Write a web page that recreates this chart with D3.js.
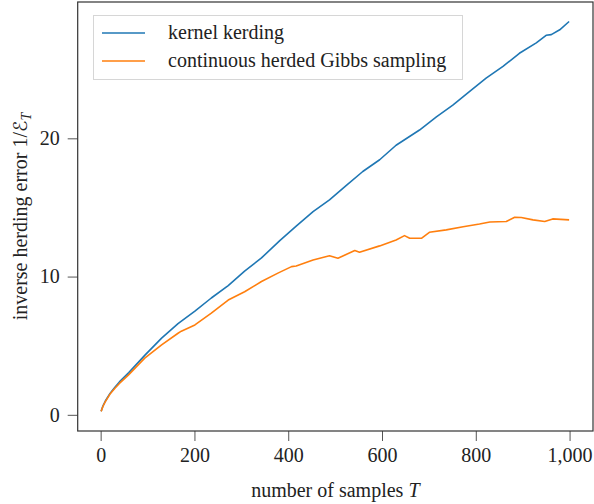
<!DOCTYPE html>
<html>
<head>
<meta charset="utf-8">
<script src="https://cdn.jsdelivr.net/npm/d3@7"></script>
<style>
  body { margin: 0; background: #fff; }
  svg text { font-family: "Liberation Serif", "DejaVu Serif", serif; fill: #222; }
</style>
</head>
<body>
<div id="chart"></div>
<script>
// samples T and inverse herding error
const kernelT = [1, 5, 10, 20, 30, 40, 60, 94, 130, 165, 201, 236, 272, 307, 343, 382, 417, 453, 488, 524, 559, 595, 630, 680, 716, 751, 787, 822, 858, 893, 929, 950, 961, 979, 999];
const kernelVals = [0.25, 0.65, 1.0, 1.55, 1.98, 2.38, 3.05, 4.3, 5.55, 6.6, 7.5, 8.45, 9.35, 10.4, 11.35, 12.6, 13.65, 14.7, 15.55, 16.6, 17.6, 18.45, 19.5, 20.6, 21.55, 22.4, 23.4, 24.35, 25.2, 26.15, 26.9, 27.45, 27.5, 27.85, 28.45];

const gibbsT = [1, 5, 10, 20, 30, 40, 59, 94, 130, 165, 172, 201, 236, 272, 307, 343, 378, 407, 417, 453, 488, 506, 542, 552, 595, 630, 648, 659, 684, 701, 737, 773, 808, 830, 865, 883, 897, 922, 947, 964, 999];
const gibbsVals = [0.25, 0.62, 0.95, 1.5, 1.9, 2.27, 2.87, 4.1, 5.06, 5.9, 6.05, 6.5, 7.35, 8.3, 8.9, 9.64, 10.25, 10.72, 10.77, 11.2, 11.5, 11.33, 11.88, 11.76, 12.22, 12.65, 12.96, 12.77, 12.77, 13.2, 13.38, 13.6, 13.8, 13.95, 13.98, 14.29, 14.27, 14.1, 13.98, 14.17, 14.1];

const xTicks = [0, 200, 400, 600, 800, 1000];
const yTicks = [0, 10, 20];
const seriesNames = ["kernel kerding", "continuous herded Gibbs sampling"];
const seriesColors = ["#1f77b4", "#ff7f0e"];

const W = 594, H = 504;
const plot = { left: 77.7, right: 593, top: 2, bottom: 431 };

const svg = d3.select("#chart").append("svg")
  .attr("width", W)
  .attr("height", H);

const x = d3.scaleLinear().domain([-48.95, 1049.95]).range([plot.left, plot.right]);
const y = d3.scaleLinear().domain([-1.17, 29.86]).range([plot.bottom, plot.top]);

// axes
const fmt = d3.format(",");
const xAxis = svg.append("g")
  .attr("transform", `translate(0,${plot.bottom})`)
  .call(d3.axisBottom(x).tickValues(xTicks).tickFormat(fmt).tickSize(10).tickPadding(4));
const yAxis = svg.append("g")
  .attr("transform", `translate(${plot.left},0)`)
  .call(d3.axisLeft(y).tickValues(yTicks).tickSize(10).tickPadding(8));

[xAxis, yAxis].forEach(a => {
  a.select(".domain").remove();
  a.selectAll(".tick line").attr("stroke", "#555").attr("stroke-width", 1);
  a.selectAll(".tick text").attr("font-size", 20).attr("fill", "#222")
    .style("font-family", '"Liberation Serif", "DejaVu Serif", serif');
});
xAxis.selectAll(".tick text").attr("dy", "0.85em");

// lines
const line = d3.line()
  .x(d => x(d[0]))
  .y(d => y(d[1]));

const series = [
  d3.zip(kernelT, kernelVals),
  d3.zip(gibbsT, gibbsVals)
];

svg.append("g").selectAll("path")
  .data(series)
  .enter().append("path")
  .attr("d", line)
  .attr("fill", "none")
  .attr("stroke", (d, i) => seriesColors[i])
  .attr("stroke-width", 1.6)
  .attr("stroke-linejoin", "round");

// frame
svg.append("rect")
  .attr("x", plot.left)
  .attr("y", plot.top)
  .attr("width", plot.right - plot.left)
  .attr("height", plot.bottom - plot.top)
  .attr("fill", "none")
  .attr("stroke", "#333")
  .attr("stroke-width", 1.2);

// legend
const legend = svg.append("g");
legend.append("rect")
  .attr("x", 93.5).attr("y", 15.5)
  .attr("width", 369).attr("height", 64)
  .attr("fill", "#fff")
  .attr("stroke", "#d6d6d6")
  .attr("stroke-width", 1);

const items = legend.selectAll(".item")
  .data(seriesNames)
  .enter().append("g")
  .attr("class", "item")
  .attr("transform", (d, i) => `translate(0,${33 + i * 28})`);

items.append("line")
  .attr("x1", 102).attr("x2", 145)
  .attr("stroke", (d, i) => seriesColors[i])
  .attr("stroke-width", 1.6);

items.append("text")
  .attr("x", 168)
  .attr("y", 6)
  .attr("font-size", 20)
  .text(d => d);

// axis labels
svg.append("text")
  .attr("x", (plot.left + plot.right) / 2)
  .attr("y", 497)
  .attr("text-anchor", "middle")
  .attr("font-size", 20)
  .text("number of samples ")
  .append("tspan").attr("font-style", "italic").text("T");

const yl = svg.append("text")
  .attr("transform", `translate(27,${(plot.top + plot.bottom) / 2}) rotate(-90)`)
  .attr("text-anchor", "middle")
  .attr("font-size", 20)
  .text("inverse herding error 1/");
yl.append("tspan")
  .style("font-family", '"DejaVu Sans", sans-serif')
  .attr("font-size", 19)
  .text("ℰ");
yl.append("tspan").attr("font-style", "italic").attr("font-size", 14).attr("dy", 4).text("T");
</script>
</body>
</html>
